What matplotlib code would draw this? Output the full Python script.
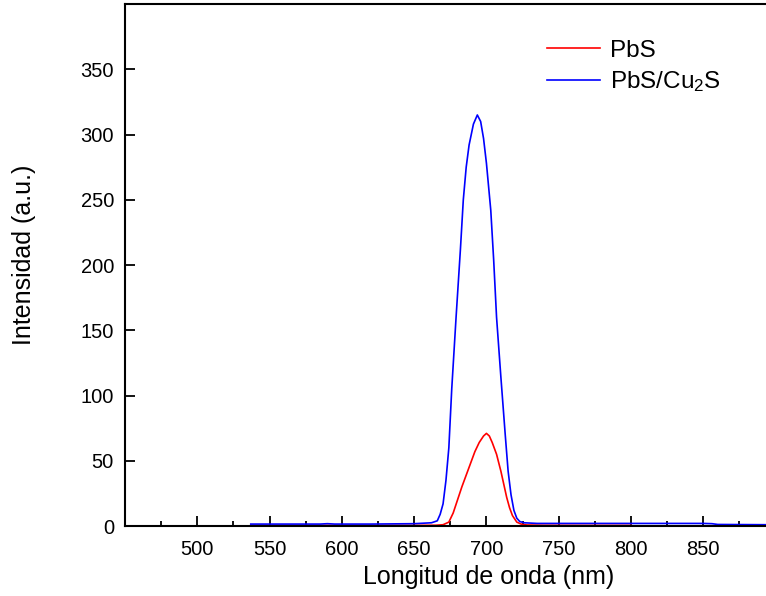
import numpy as np
import matplotlib
matplotlib.use('Agg')
import matplotlib.pyplot as plt
from matplotlib.ticker import MultipleLocator

plt.rcParams['font.family'] = ['Liberation Sans', 'DejaVu Sans']
plt.rcParams['mathtext.fontset'] = 'custom'
plt.rcParams['mathtext.rm'] = 'Liberation Sans'
plt.rcParams['mathtext.it'] = 'Liberation Sans'

# PbS emission (red)
pbs_wl = [537, 560, 590, 620, 650, 665, 670, 674, 677, 680, 683, 686, 689, 692,
          695, 698, 700, 702, 704, 707, 710, 712, 714, 716, 718, 721, 724, 728,
          740, 770, 800]
pbs_int = [0.5, 0.5, 0.5, 0.5, 0.5, 0.6, 1.0, 3, 10, 20, 30, 39, 48, 57,
           64, 69, 71, 69, 64, 55, 42, 32, 22, 14, 8, 3, 1.5, 0.8,
           0.6, 0.5, 0.5]

# PbS/Cu2S emission (blue)
cu_wl = [537, 560, 585, 590, 595, 620, 650, 662, 666, 668, 670, 672, 674, 676,
         679, 682, 684, 686, 688, 691, 693.7, 696, 698, 700, 703, 705, 707, 710,
         713, 715, 717, 719, 721, 723, 726, 735, 780, 820, 850, 856, 860, 895]
cu_int = [1.5, 1.5, 1.5, 1.8, 1.5, 1.5, 1.8, 2.5, 4, 9, 17, 35, 60, 105,
          160, 212, 250, 275, 292, 308, 315, 310, 297, 278, 242, 204, 160, 114,
          70, 42, 24, 12, 6, 3.5, 2.5, 2, 2, 2, 2, 1.8, 1.2, 1.0]

fig = plt.figure(figsize=(7.66, 5.96), dpi=100)
ax = fig.add_axes([0.1632, 0.1174, 0.8493, 0.8758])

ax.plot(pbs_wl, pbs_int, color='#ff0000', lw=1.2, label='PbS')
ax.plot(cu_wl, cu_int, color='#0000ff', lw=1.2, label='PbS/Cu$_2$S')

ax.set_xlim(450, 900)
ax.set_ylim(0, 400)
ax.set_xticks(np.arange(500, 851, 50))
ax.xaxis.set_minor_locator(MultipleLocator(25))
ax.set_yticks(np.arange(0, 351, 50))

ax.tick_params(axis='both', which='major', direction='in', length=7.5, width=1.3,
               labelsize=14.5)
ax.tick_params(axis='x', which='major', pad=10)
ax.tick_params(axis='y', which='major', pad=8)
ax.tick_params(axis='x', which='minor', direction='in', length=3.8, width=1.3)
ax.tick_params(top=False, right=False, which='both')
for s in ax.spines.values():
    s.set_linewidth(1.5)

ax.set_xlabel('Longitud de onda (nm)', fontsize=18)
ax.set_ylabel('Intensidad (a.u.)', fontsize=18)
ax.xaxis.set_label_coords(0.5587, -0.074)
ax.yaxis.set_label_coords(-0.137, 0.519)

ax.legend(loc='upper left', bbox_to_anchor=(0.633, 0.95), frameon=False,
          fontsize=17.5, handlelength=2.2, handletextpad=0.4, labelspacing=0.3,
          borderaxespad=0)

fig.savefig('out.png', dpi=100)
